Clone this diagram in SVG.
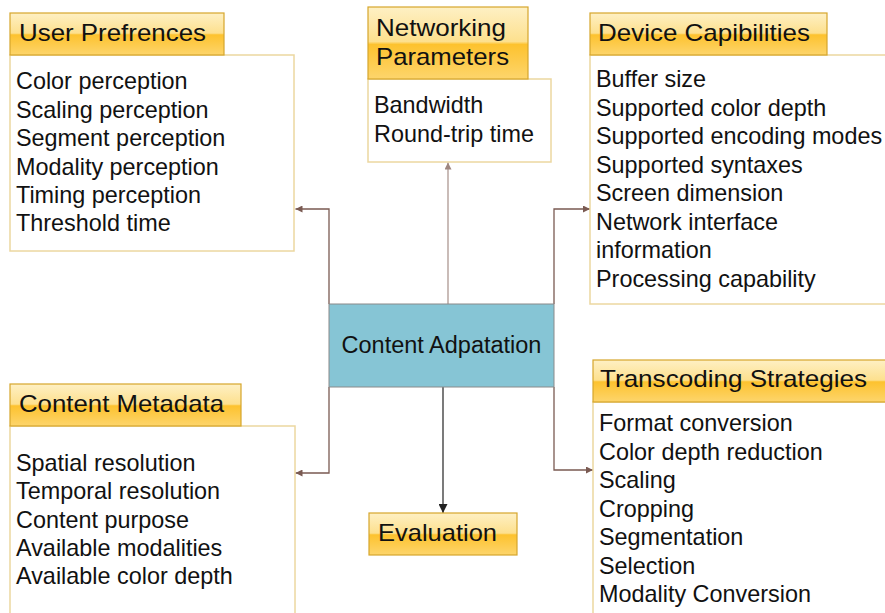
<svg xmlns="http://www.w3.org/2000/svg" width="885" height="613" viewBox="0 0 885 613">
  <defs>
    <linearGradient id="gold" x1="0" y1="0" x2="0" y2="1">
      <stop offset="0" stop-color="#fef0c4"/>
      <stop offset="0.48" stop-color="#fde08e"/>
      <stop offset="0.52" stop-color="#fdc22e"/>
      <stop offset="1" stop-color="#fdd56c"/>
    </linearGradient>
    <marker id="arr" viewBox="0 0 10 10" refX="10" refY="5" markerWidth="8" markerHeight="7" markerUnits="userSpaceOnUse" orient="auto">
      <path d="M0,0 L10,5 L0,10 Z" fill="#7a5a52"/>
    </marker>
    <marker id="arrLight" viewBox="0 0 10 10" refX="10" refY="5" markerWidth="8" markerHeight="7" markerUnits="userSpaceOnUse" orient="auto">
      <path d="M0,0 L10,5 L0,10 Z" fill="#9e8680"/>
    </marker>
    <marker id="arrDark" viewBox="0 0 10 10" refX="10" refY="5" markerWidth="10" markerHeight="9" markerUnits="userSpaceOnUse" orient="auto">
      <path d="M0,0 L10,5 L0,10 Z" fill="#222"/>
    </marker>
  </defs>
  <style>
    text { font-family: "Liberation Sans", Arial, sans-serif; fill: #111; }
    .hdr { fill: url(#gold); stroke: #d6a62c; stroke-width: 1.2; }
    .body { fill: #fff; stroke: #ecd7a0; stroke-width: 1.5; }
    .ht { font-size: 24px; }
    .bt { font-size: 23.4px; }
    .link { fill: none; stroke: #7a5a52; stroke-width: 1.3; }
  </style>
  <rect width="885" height="613" fill="#fff"/>

  <!-- connectors -->
  <g id="connectors">
    <path class="link" d="M329,304 V209 H295.5" marker-end="url(#arr)"/>
    <path class="link" d="M448,304 V162.5" style="stroke:#ad9892" marker-end="url(#arrLight)"/>
    <path class="link" d="M554,304 V209 H590" marker-end="url(#arr)"/>
    <path class="link" d="M329,387 V473 H295.5" marker-end="url(#arr)"/>
    <path class="link" d="M554,387 V470 H593" marker-end="url(#arr)"/>
    <path class="link" d="M443,387 V513" style="stroke:#333" marker-end="url(#arrDark)"/>
  </g>

  <!-- User Prefrences -->
  <g id="user-prefrences">
    <rect class="body" x="10" y="55" width="284" height="196"/>
    <rect class="hdr" x="10" y="13" width="214" height="42"/>
    <text class="ht" x="19" y="41" textLength="187" lengthAdjust="spacingAndGlyphs">User Prefrences</text>
    <text class="bt" x="16" y="89">Color perception</text>
    <text class="bt" x="16" y="117.5">Scaling perception</text>
    <text class="bt" x="16" y="146">Segment perception</text>
    <text class="bt" x="16" y="174.5">Modality perception</text>
    <text class="bt" x="16" y="203">Timing perception</text>
    <text class="bt" x="16" y="231">Threshold time</text>
  </g>

  <!-- Networking Parameters -->
  <g id="networking-parameters">
    <rect class="body" x="368" y="79" width="183" height="83"/>
    <rect class="hdr" x="368" y="7" width="160" height="72"/>
    <text class="ht" x="376" y="36" textLength="130" lengthAdjust="spacingAndGlyphs">Networking</text>
    <text class="ht" x="376" y="65" textLength="133" lengthAdjust="spacingAndGlyphs">Parameters</text>
    <text class="bt" x="374" y="113">Bandwidth</text>
    <text class="bt" x="374" y="141.5">Round-trip time</text>
  </g>

  <!-- Device Capibilities -->
  <g id="device-capibilities">
    <rect class="body" x="590" y="55" width="300" height="249"/>
    <rect class="hdr" x="590" y="13" width="237" height="42"/>
    <text class="ht" x="598" y="41" textLength="212" lengthAdjust="spacingAndGlyphs">Device Capibilities</text>
    <text class="bt" x="596" y="87">Buffer size</text>
    <text class="bt" x="596" y="115.5">Supported color depth</text>
    <text class="bt" x="596" y="144">Supported encoding modes</text>
    <text class="bt" x="596" y="172.5">Supported syntaxes</text>
    <text class="bt" x="596" y="201">Screen dimension</text>
    <text class="bt" x="596" y="229.5">Network interface</text>
    <text class="bt" x="596" y="258">information</text>
    <text class="bt" x="596" y="286.5">Processing capability</text>
  </g>

  <!-- Content Adpatation -->
  <g id="content-adpatation">
    <rect x="329" y="304" width="225" height="83" fill="#86c5d5" stroke="#8a8a8a" stroke-width="1"/>
    <text x="441.5" y="353" font-size="23.5" text-anchor="middle">Content Adpatation</text>
  </g>

  <!-- Content Metadata -->
  <g id="content-metadata">
    <rect class="body" x="10" y="426" width="285" height="200"/>
    <rect class="hdr" x="10" y="384" width="231" height="42"/>
    <text class="ht" x="19" y="412" textLength="205" lengthAdjust="spacingAndGlyphs">Content Metadata</text>
    <text class="bt" x="16" y="471">Spatial resolution</text>
    <text class="bt" x="16" y="499">Temporal resolution</text>
    <text class="bt" x="16" y="527.5">Content purpose</text>
    <text class="bt" x="16" y="556">Available modalities</text>
    <text class="bt" x="16" y="584">Available color depth</text>
  </g>

  <!-- Transcoding Strategies -->
  <g id="transcoding-strategies">
    <rect class="body" x="593" y="402" width="300" height="220"/>
    <rect class="hdr" x="593" y="360" width="300" height="42"/>
    <text class="ht" x="600" y="387" textLength="267" lengthAdjust="spacingAndGlyphs">Transcoding Strategies</text>
    <text class="bt" x="599" y="431">Format conversion</text>
    <text class="bt" x="599" y="459.5">Color depth reduction</text>
    <text class="bt" x="599" y="488">Scaling</text>
    <text class="bt" x="599" y="516.5">Cropping</text>
    <text class="bt" x="599" y="545">Segmentation</text>
    <text class="bt" x="599" y="573.5">Selection</text>
    <text class="bt" x="599" y="602">Modality Conversion</text>
  </g>

  <!-- Evaluation -->
  <g id="evaluation">
    <rect class="hdr" x="369" y="513" width="148" height="42"/>
    <text class="ht" x="378" y="541" textLength="119" lengthAdjust="spacingAndGlyphs">Evaluation</text>
  </g>
</svg>
